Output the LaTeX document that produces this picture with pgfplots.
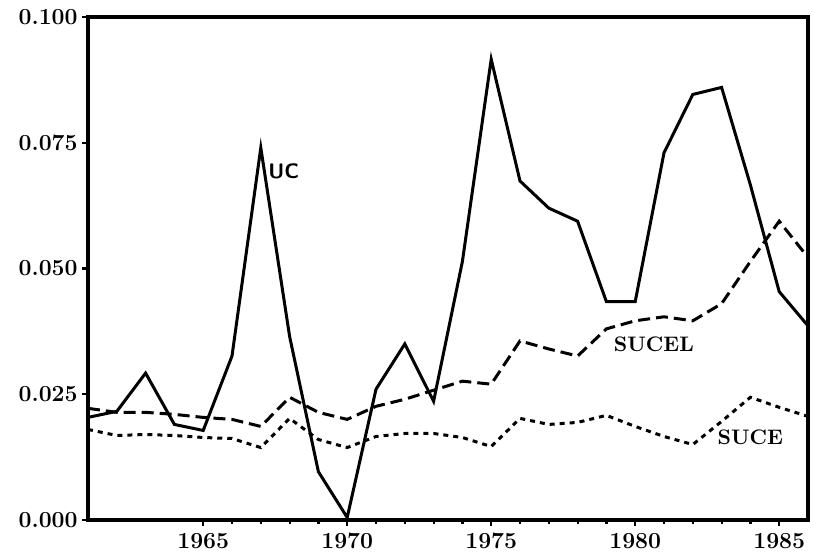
\documentclass[border=0pt]{standalone}
\usepackage{pgfplots}
\pgfplotsset{compat=1.18}
\begin{document}
\begin{tikzpicture}
\begin{axis}[
  scale only axis,
  width=360pt, height=251.5pt,
  xmin=1961, xmax=1986,
  ymin=0, ymax=0.1,
  xtick={1965,1970,1975,1980,1985},
  minor x tick num=4,
  ytick={0,0.025,0.05,0.075,0.1},
  axis line style={line width=1.6pt},
  tick style={line width=1.1pt, black},
  major tick length=3pt, minor tick length=2pt,
  tick align=outside,
  xtick pos=bottom, ytick pos=left,
  tick label style={font=\fontsize{11.5}{12}\selectfont\bfseries},
  /pgf/number format/assume math mode=true,
  xticklabel style={/pgf/number format/1000 sep={}},
  yticklabel style={/pgf/number format/fixed, /pgf/number format/fixed zerofill, /pgf/number format/precision=3, inner sep=2pt},
  scaled y ticks=false,
  clip=false,
]
\addplot[black, line width=1.5pt] coordinates {
(1961,0.0204) (1962,0.0216) (1963,0.0292) (1964,0.0190) (1965,0.0178) (1966,0.0326)
(1967,0.0740) (1968,0.0365) (1969,0.0096) (1970,0.0005) (1971,0.0260) (1972,0.0350)
(1973,0.0236) (1974,0.0514) (1975,0.0916) (1976,0.0674) (1977,0.0620) (1978,0.0594)
(1979,0.0434) (1980,0.0434) (1981,0.0730) (1982,0.0846) (1983,0.0860) (1984,0.0666)
(1985,0.0454) (1986,0.0386)};
\addplot[black, line width=1.5pt, dash pattern=on 6pt off 3pt] coordinates {
(1961,0.0222) (1962,0.0214) (1963,0.0214) (1964,0.0210) (1965,0.0204) (1966,0.0200)
(1967,0.0186) (1968,0.0244) (1969,0.0214) (1970,0.0200) (1971,0.0226) (1972,0.0240)
(1973,0.0258) (1974,0.0276) (1975,0.0270) (1976,0.0356) (1977,0.0340) (1978,0.0326)
(1979,0.0380) (1980,0.0396) (1981,0.0404) (1982,0.0396) (1983,0.0430) (1984,0.0514)
(1985,0.0594) (1986,0.0522)};
\addplot[black, line width=1.5pt, dash pattern=on 2.5pt off 2.5pt] coordinates {
(1961,0.0180) (1962,0.0168) (1963,0.0170) (1964,0.0168) (1965,0.0164) (1966,0.0162)
(1967,0.0144) (1968,0.0202) (1969,0.0160) (1970,0.0144) (1971,0.0166) (1972,0.0172)
(1973,0.0172) (1974,0.0164) (1975,0.0146) (1976,0.0202) (1977,0.0190) (1978,0.0194)
(1979,0.0208) (1980,0.0186) (1981,0.0166) (1982,0.0150) (1983,0.0196) (1984,0.0244)
(1985,0.0224) (1986,0.0206)};
\node[font=\sffamily\bfseries\fontsize{10.5}{12}\selectfont] at (axis cs:1967.8,0.0694) {UC};
\node[font=\bfseries\fontsize{10.5}{12}\selectfont] at (axis cs:1980.65,0.0350) {SUCEL};
\node[font=\bfseries\fontsize{10.5}{12}\selectfont] at (axis cs:1984.0,0.0164) {SUCE};
\end{axis}
\pgfresetboundingbox
\path (-44pt,-17.5pt) rectangle (362.5pt,260pt);
\end{tikzpicture}
\end{document}
